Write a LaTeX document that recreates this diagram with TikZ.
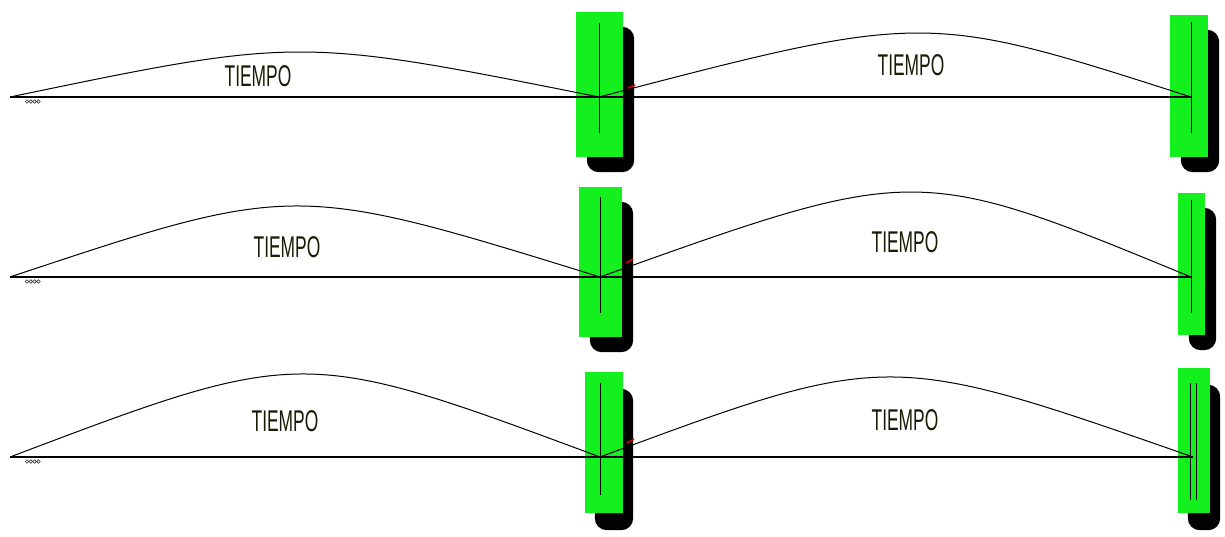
\documentclass[tikz,border=0pt]{standalone}
\usepackage{fontspec}
\setmainfont{Liberation Sans}
\usetikzlibrary{backgrounds}
\definecolor{boxgreen}{HTML}{14F01E}
\definecolor{inkdark}{HTML}{1A1A05}

\begin{document}
\begin{tikzpicture}[x=1pt,y=-1pt, box/.style={rectangle, fill=boxgreen, inner sep=0pt}, boxshade/.style={fill=black, rounded corners=12pt}, tline/.style={line width=1.1pt}, vline/.style={line width=0.9pt}, arcline/.style={line width=1pt}, tlabel/.style={font=\fontsize{30}{30}\selectfont, text=inkdark, inner sep=0pt}, coil/.style={draw=black!80, line width=0.6pt}, tick/.style={red!80!black, line width=1.6pt}]
  \useasboundingbox (0,0) rectangle (1225,536);
  % boxes
  \node[box, minimum width=47pt, minimum height=145pt] (m1) at (599.5,84.5) {};
  \node[box, minimum width=38pt, minimum height=142pt] (r1) at (1189,86) {};
  \node[box, minimum width=43pt, minimum height=150pt] (m2) at (600.5,262) {};
  \node[box, minimum width=27pt, minimum height=142pt] (r2) at (1191.5,264) {};
  \node[box, minimum width=38pt, minimum height=141pt] (m3) at (604,442.5) {};
  \node[box, minimum width=32pt, minimum height=145pt] (r3) at (1194,440.5) {};
  \begin{scope}[on background layer]
    \fill[boxshade] ([shift={(11pt,-15pt)}]m1.north west) rectangle ([shift={(11pt,-15pt)}]m1.south east);
    \fill[boxshade] ([shift={(11pt,-15pt)}]r1.north west) rectangle ([shift={(11pt,-15pt)}]r1.south east);
    \fill[boxshade] ([shift={(11pt,-15pt)}]m2.north west) rectangle ([shift={(11pt,-15pt)}]m2.south east);
    \fill[boxshade] ([shift={(11pt,-15pt)}]r2.north west) rectangle ([shift={(11pt,-15pt)}]r2.south east);
    \fill[boxshade] ([shift={(10pt,-17pt)}]m3.north west) rectangle ([shift={(10pt,-17pt)}]m3.south east);
    \fill[boxshade] ([shift={(10pt,-17pt)}]r3.north west) rectangle ([shift={(10pt,-17pt)}]r3.south east);
  \end{scope}
  % end points of each row
  \coordinate (a1) at (10,97);
  \coordinate (b1) at (599,97);
  \coordinate (c1) at (1191,97);
  \coordinate (a2) at (10,277);
  \coordinate (b2) at (600,277);
  \coordinate (c2) at (1191,277);
  \coordinate (a3) at (10,457);
  \coordinate (b3) at (600,457);
  \coordinate (c3) at (1193,457);
  % lines inside the boxes
  \draw[vline] (b1 |- 0,23) -- (b1 |- 0,133);
  \draw[vline] (c1 |- 0,22) -- (c1 |- 0,133);
  \draw[vline] (b2 |- 0,197) -- (b2 |- 0,313);
  \draw[vline] (c2 |- 0,200) -- (c2 |- 0,313);
  \draw[vline] (b3 |- 0,383) -- (b3 |- 0,495);
  \draw[vline] (1190,383) -- (1190,500);
  \draw[vline] (1196,383) -- (1196,500);
  % time lines
  \draw[tline] (a1) -- (c1);
  \draw[tline] (a2) -- (c2);
  \draw[tline] (a3) -- (c3);
  \draw[arcline] (a1) .. controls (298.5,37) .. (b1);
  \draw[arcline] (b1) .. controls (925.7,11.7) .. (c1);
  \draw[arcline] (a2) .. controls (294.3,182.3) .. (b2);
  \draw[arcline] (b2) .. controls (916.2,163.7) .. (c2);
  \draw[arcline] (a3) .. controls (302.3,346.3) .. (b3);
  \draw[arcline] (b3) .. controls (887.8,350.3) .. (c3);
  \draw[tick] (628,88) -- (635,85);
  \draw[tick] (626,263) -- (633,259);
  \draw[tick] (627,443) -- (634,439);
  \foreach \k in {0,1,2,3} \draw[coil] (27+3.8*\k,101.5) circle (1.8pt);
  \foreach \k in {0,1,2,3} \draw[coil] (27+3.8*\k,281.5) circle (1.8pt);
  \foreach \k in {0,1,2,3} \draw[coil] (27+3.8*\k,461.5) circle (1.8pt);
  % labels
  \node[tlabel] (t1a) at (258,76) {\scalebox{0.58}[1]{TIEMPO}};
  \node[tlabel] (t1b) at (911,65) {\scalebox{0.58}[1]{TIEMPO}};
  \node[tlabel] (t2a) at (287,247) {\scalebox{0.58}[1]{TIEMPO}};
  \node[tlabel] (t2b) at (905,242) {\scalebox{0.58}[1]{TIEMPO}};
  \node[tlabel] (t3a) at (285,421) {\scalebox{0.58}[1]{TIEMPO}};
  \node[tlabel] (t3b) at (905,420) {\scalebox{0.58}[1]{TIEMPO}};
\end{tikzpicture}
\end{document}
